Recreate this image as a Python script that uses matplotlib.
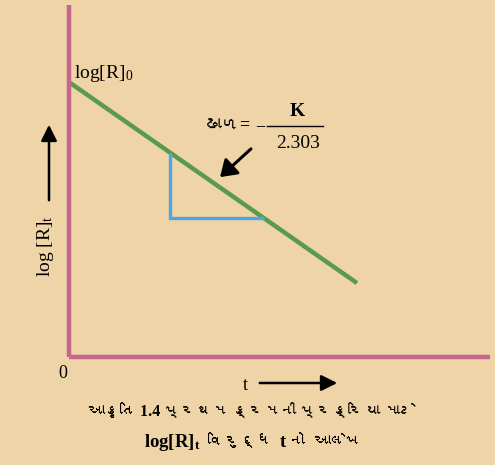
import matplotlib
matplotlib.use("Agg")
import matplotlib.pyplot as plt
from matplotlib import font_manager
from matplotlib.ft2font import FT2Font

# find a font with Gujarati glyphs, if any
guj = None
for f in font_manager.fontManager.ttflist:
    try:
        cm = FT2Font(f.fname).get_charmap()
        if 0x0A9C in cm and 0x0AB3 in cm:
            guj = f.name
            break
    except Exception:
        pass

serif = "Liberation Serif"
fam = [serif] + ([guj] if guj else []) + ["DejaVu Sans"]
plt.rcParams['font.family'] = fam
plt.rcParams['mathtext.fontset'] = 'custom'
plt.rcParams['mathtext.rm'] = serif
plt.rcParams['mathtext.it'] = serif + ':italic'
plt.rcParams['mathtext.bf'] = serif + ':bold'

# data
t_line = [0.0, 6.84]
logR_line = [7.81, 2.10]
tri_t = [2.40, 4.62]

caption1 = "આકૃતિ 1.4 પ્રથમ ક્રમની પ્રક્રિયા માટે"
caption2_parts = [r"$\mathbf{log[R]}_{\mathbf{t}}$", "વિરુદ્ધ", "t", "નો", "આલેખ"]

bg = "#EED4A6"
pink = "#C8658E"
green = "#5A9A4E"
blue = "#4FA6E6"

fig = plt.figure(figsize=(4.95, 4.65), dpi=100, facecolor=bg)
ax = fig.add_axes([69/495, 108/465, 421/495, 352/465])
ax.set_facecolor(bg)
ax.set_xlim(0, 10)
ax.set_ylim(0, 10)
for s in ['top', 'right']:
    ax.spines[s].set_visible(False)
for s in ['left', 'bottom']:
    ax.spines[s].set_color(pink)
    ax.spines[s].set_linewidth(3.2)
    ax.spines[s].set_capstyle('butt')
ax.set_xticks([])
ax.set_yticks([])

ax.plot(t_line, logR_line, color=green, lw=3.2, solid_capstyle='butt', clip_on=False)

slope = (logR_line[1] - logR_line[0]) / (t_line[1] - t_line[0])
def yl(t):
    return logR_line[0] + slope * (t - t_line[0])
y_top = yl(tri_t[0])
t_right = tri_t[1]
y_bot = yl(t_right)
ax.plot([tri_t[0], tri_t[0], t_right], [y_top, y_bot, y_bot], color=blue, lw=2.4,
        solid_joinstyle='miter', solid_capstyle='butt')

# annotations (figure pixel coords)
def fx(px):
    return px / 495
def fy(py):
    return 1 - py / 465

fig.text(fx(74), fy(74), r"$\mathrm{log[R]_0}$", fontsize=14, ha='left', va='center')
fig.text(fx(63), fy(373), "0", fontsize=13, ha='center', va='center')

# slope label
fig.text(fx(251), fy(126), "ઢાળ=", fontsize=13, ha='right', va='center', fontweight='bold')
fig.text(fx(260), fy(127), "−", fontsize=13, ha='center', va='center')
fig.text(fx(297), fy(111), "K", fontsize=14, ha='center', va='center', fontweight='bold')
fig.text(fx(298), fy(143), "2.303", fontsize=14, ha='center', va='center')
fig.add_artist(plt.Line2D([fx(267), fx(323)], [fy(126), fy(126)], color='black', lw=1.0))
fig.add_artist(matplotlib.patches.FancyArrowPatch((fx(253), fy(147)), (fx(218), fy(179)),
               transform=fig.transFigure, arrowstyle='-|>,head_length=6,head_width=4',
               color='black', lw=2.2, mutation_scale=1.6))

# axis labels
fig.text(fx(245), fy(385), "t", fontsize=13, ha='center', va='center')
fig.add_artist(matplotlib.patches.FancyArrowPatch((fx(257), fy(383)), (fx(340), fy(383)),
               transform=fig.transFigure, arrowstyle='-|>,head_length=6,head_width=3',
               color='black', lw=1.8, mutation_scale=1.6))
fig.text(fx(46), fy(246), r"$\mathrm{log\ [R]_t}$", fontsize=14, ha='center', va='center', rotation=90)
fig.add_artist(matplotlib.patches.FancyArrowPatch((fx(49), fy(203)), (fx(49), fy(122)),
               transform=fig.transFigure, arrowstyle='-|>,head_length=6,head_width=3',
               color='black', lw=1.8, mutation_scale=1.6))

# caption line 1
fig.text(fx(252), fy(412), caption1, fontsize=11.5,
         ha='center', va='center', fontweight='bold')

# caption line 2: flow layout, centred
renderer = fig.canvas.get_renderer()
gaps = [8, 8, 3, 9]
arts = []
for i, p in enumerate(caption2_parts):
    fs = 13.5 if p.startswith('$') or p == 't' else 11.5
    a = fig.text(0, fy(442), p, fontsize=fs, ha='left', va='center', fontweight='bold')
    arts.append(a)
widths = [a.get_window_extent(renderer).width for a in arts]
total = sum(widths) + sum(gaps)
x = 253 - total / 2
for i, a in enumerate(arts):
    a.set_x(fx(x))
    x += widths[i] + (gaps[i] if i < len(gaps) else 0)

fig.savefig("out.png", dpi=100, facecolor=bg)
